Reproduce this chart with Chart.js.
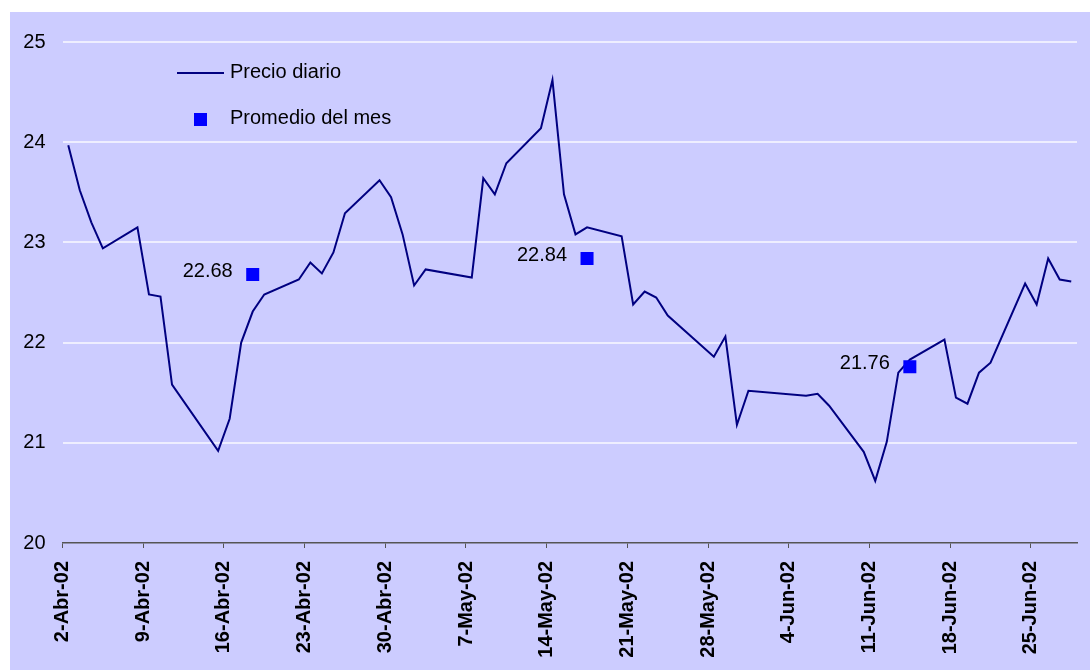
<!DOCTYPE html>
<html lang="es">

<head>
    <meta charset="UTF-8">
    <script src="https://cdn.jsdelivr.net/npm/chart.js"></script>
    <title>Precio diario</title>
    <style>
        body { margin: 0; background: #ffffff; }
        #grafico { display: block; }
    </style>
</head>

<body>
    <canvas id="grafico" width="1090" height="670"></canvas>

<script>
    // precio diario (dias habiles)
    const fechas = [
        '2002-04-02', '2002-04-03', '2002-04-04', '2002-04-05', '2002-04-08', '2002-04-09', '2002-04-10', '2002-04-11',
        '2002-04-15', '2002-04-16', '2002-04-17', '2002-04-18', '2002-04-19', '2002-04-22', '2002-04-23', '2002-04-24',
        '2002-04-25', '2002-04-26', '2002-04-29', '2002-04-30', '2002-05-01', '2002-05-02', '2002-05-03', '2002-05-07',
        '2002-05-08', '2002-05-09', '2002-05-10', '2002-05-13', '2002-05-14', '2002-05-15', '2002-05-16', '2002-05-17',
        '2002-05-20', '2002-05-21', '2002-05-22', '2002-05-23', '2002-05-24', '2002-05-28', '2002-05-29', '2002-05-30',
        '2002-05-31', '2002-06-05', '2002-06-06', '2002-06-07', '2002-06-10', '2002-06-11', '2002-06-12', '2002-06-13',
        '2002-06-14', '2002-06-17', '2002-06-18', '2002-06-19', '2002-06-20', '2002-06-21', '2002-06-24', '2002-06-25',
        '2002-06-26', '2002-06-27', '2002-06-28'
    ];
    const precios = [
        23.97, 23.52, 23.20, 22.94, 23.15, 22.48, 22.46, 21.58,
        20.92, 21.24, 22.00, 22.31, 22.48, 22.63, 22.80, 22.69,
        22.90, 23.29, 23.62, 23.45, 23.08, 22.57, 22.73, 22.65,
        23.64, 23.48, 23.79, 24.14, 24.62, 23.48, 23.08, 23.15,
        23.06, 22.38, 22.51, 22.45, 22.27, 21.86, 22.06, 21.18,
        21.52, 21.47, 21.49, 21.37, 20.91, 20.62, 21.01, 21.70,
        21.83, 22.03, 21.45, 21.39, 21.70, 21.80, 22.59, 22.38,
        22.84, 22.63, 22.61
    ];

    // promedio del mes
    const fechasPromedio = ['2002-04-18', '2002-05-17', '2002-06-14'];
    const promedios = [22.68, 22.84, 21.76];

    const etiquetasX = ['2-Abr-02', '9-Abr-02', '16-Abr-02', '23-Abr-02', '30-Abr-02', '7-May-02', '14-May-02',
        '21-May-02', '28-May-02', '4-Jun-02', '11-Jun-02', '18-Jun-02', '25-Jun-02'];
    const etiquetasY = [20, 21, 22, 23, 24, 25];

    const inicio = Date.UTC(2002, 3, 2);
    const diasTotales = 88;

    // dia desde el 2-Abr, centrado en el dia
    function dia(f) {
        const p = f.split('-');
        return (Date.UTC(+p[0], +p[1] - 1, +p[2]) - inicio) / 86400000 + 0.5;
    }

    const fuente = "'Liberation Sans', Arial, sans-serif";

    const fondo = {
        id: 'fondo',
        beforeDraw(chart) {
            const ctx = chart.ctx;
            ctx.save();
            ctx.fillStyle = '#CCCCFF';
            ctx.fillRect(10, 12, chart.width - 10, chart.height - 12);
            ctx.restore();
        }
    };

    const extras = {
        id: 'extras',
        afterDatasetsDraw(chart) {
            const ctx = chart.ctx;
            const xs = chart.scales.x;
            const ys = chart.scales.y;
            ctx.save();
            ctx.font = '20px ' + fuente;
            ctx.fillStyle = '#000000';
            ctx.textAlign = 'right';
            ctx.textBaseline = 'middle';
            fechasPromedio.forEach((f, i) => {
                const px = xs.getPixelForValue(dia(f));
                const py = ys.getPixelForValue(promedios[i]);
                ctx.fillText(promedios[i].toFixed(2), px - 20, py - 3);
            });

            // leyenda
            ctx.textAlign = 'left';
            ctx.strokeStyle = '#000080';
            ctx.lineWidth = 2;
            ctx.beginPath();
            ctx.moveTo(177, 73);
            ctx.lineTo(224, 73);
            ctx.stroke();
            ctx.fillText('Precio diario', 230, 72);
            ctx.fillStyle = '#0000FF';
            ctx.fillRect(194, 113, 13, 13);
            ctx.fillStyle = '#000000';
            ctx.fillText('Promedio del mes', 230, 118);
            ctx.restore();
        }
    };

    const ctx = document.getElementById('grafico').getContext('2d');

    new Chart(ctx, {
        type: 'line',
        data: {
            datasets: [{
                label: 'Precio diario',
                data: fechas.map((f, i) => ({ x: dia(f), y: precios[i] })),
                borderColor: '#000080',
                borderWidth: 2,
                pointRadius: 0,
                tension: 0,
                order: 2
            }, {
                label: 'Promedio del mes',
                data: fechasPromedio.map((f, i) => ({ x: dia(f), y: promedios[i] })),
                showLine: false,
                pointStyle: 'rect',
                pointRadius: 9.2,
                pointBackgroundColor: '#0000FF',
                pointBorderWidth: 0,
                borderColor: '#0000FF',
                order: 1
            }]
        },
        options: {
            responsive: false,
            animation: false,
            devicePixelRatio: 1,
            layout: { padding: { left: 0, top: 42, right: 13, bottom: 0 } },
            plugins: {
                legend: { display: false },
                tooltip: { enabled: false }
            },
            scales: {
                x: {
                    type: 'linear',
                    min: 0,
                    max: diasTotales,
                    afterBuildTicks: (s) => { s.ticks = etiquetasX.map((_, i) => ({ value: i * 7 })); },
                    afterFit: (s) => { s.height = 127; },
                    grid: {
                        drawOnChartArea: false,
                        drawTicks: true,
                        tickLength: 5,
                        color: '#555555',
                        lineWidth: 1
                    },
                    border: { display: true, color: '#555555', width: 1.5 },
                    ticks: {
                        minRotation: 90,
                        maxRotation: 90,
                        padding: 13,
                        color: '#000000',
                        font: { family: fuente, size: 20, weight: 'bold' },
                        callback: (v) => etiquetasX[Math.round(v / 7)]
                    }
                },
                y: {
                    min: 20,
                    max: 25,
                    afterBuildTicks: (s) => { s.ticks = etiquetasY.map(v => ({ value: v })); },
                    afterFit: (s) => { s.width = 62.5; },
                    grid: {
                        color: (c) => c.tick && c.tick.value === 20 ? 'rgba(0,0,0,0)' : '#EEEEFF',
                        lineWidth: 2,
                        drawTicks: false
                    },
                    border: { display: false },
                    ticks: {
                        padding: 17,
                        color: '#000000',
                        font: { family: fuente, size: 20 }
                    }
                }
            }
        },
        plugins: [fondo, extras]
    });
</script>
</body>

</html>
